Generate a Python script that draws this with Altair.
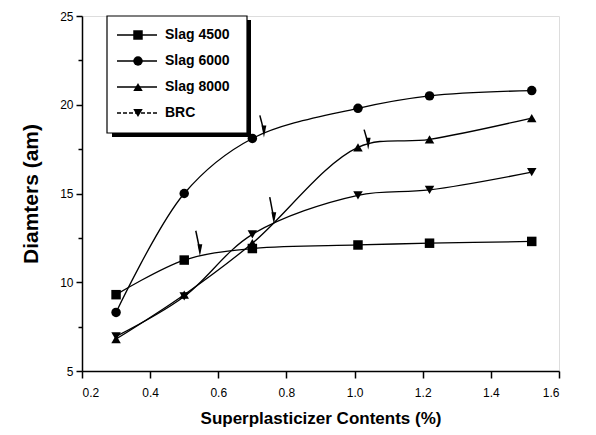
import altair as alt
import pandas as pd

# ---- data ----
x_vals = [0.3, 0.5, 0.7, 1.01, 1.22, 1.52]
series_names = ["Slag 4500", "Slag 6000", "Slag 8000", "BRC"]
slag4500 = [9.3, 11.25, 11.9, 12.1, 12.2, 12.3]
slag6000 = [8.3, 15.0, 18.1, 19.8, 20.5, 20.8]
slag8000 = [6.8, 9.3, 12.2, 17.6, 18.05, 19.25]
brc = [6.95, 9.2, 12.7, 14.9, 15.2, 16.2]
series_shapes = ["square", "circle", "triangle-up", "triangle-down"]

# arrows (x, top value, bottom value)
arrow_x = [0.54, 0.728, 0.757, 1.034]
arrow_top = [12.9, 19.4, 14.8, 18.6]
arrow_bot = [11.8, 18.5, 13.6, 17.8]

x_ticks = [round(0.2 + 0.1 * i, 1) for i in range(15)]
y_ticks = [5 + 2.5 * i for i in range(9)]

rows = []
for name, vals in zip(series_names, [slag4500, slag6000, slag8000, brc]):
    for xv, yv in zip(x_vals, vals):
        rows.append({"series": name, "x": xv, "y": yv})
df = pd.DataFrame(rows)

arrows = pd.DataFrame({
    "x1": [a - 0.006 for a in arrow_x],
    "x2": [a + 0.006 for a in arrow_x],
    "y1": arrow_top,
    "y2": arrow_bot,
})

FONT = "Liberation Sans"

xscale = alt.Scale(domain=[0.2, 1.6], nice=False, zero=False)
yscale = alt.Scale(domain=[5, 25], nice=False, zero=False)

xaxis = alt.Axis(
    values=x_ticks,
    labelExpr="round(datum.value*10) % 2 === 0 ? format(datum.value, '.1f') : ''",
    tickSize={"condition": {"test": "round(datum.value*10) % 2 === 0", "value": 7}, "value": 4},
    grid=False, domainColor="black", domainWidth=1.5, tickColor="black", tickWidth=1.5,
    labelFont=FONT, labelFontSize=12, labelColor="black", labelPadding=9,
    title="Superplasticizer Contents (%)", titleFont=FONT, titleFontSize=17,
    titleFontWeight="bold", titleColor="black", titlePadding=12,
)
yaxis = alt.Axis(
    values=y_ticks,
    labelExpr="datum.value % 5 === 0 ? datum.label : ''",
    tickSize={"condition": {"test": "datum.value % 5 === 0", "value": 6}, "value": 4},
    grid=False, domainColor="black", domainWidth=1.5, tickColor="black", tickWidth=1.5,
    labelFont=FONT, labelFontSize=12, labelColor="black", labelPadding=3,
    title="Diamters (am)", titleFont=FONT, titleFontSize=21,
    titleFontWeight="bold", titleColor="black", titlePadding=18,
)

base = alt.Chart(df)
lines = base.mark_line(interpolate="catmull-rom", color="black", strokeWidth=1.3).encode(
    x=alt.X("x:Q", scale=xscale, axis=xaxis),
    y=alt.Y("y:Q", scale=yscale, axis=yaxis),
    detail="series:N",
)
points = base.mark_point(filled=True, color="black", opacity=1, size=90).encode(
    x="x:Q",
    y="y:Q",
    shape=alt.Shape("series:N", scale=alt.Scale(domain=series_names, range=series_shapes), legend=None),
)

arr_base = alt.Chart(arrows)
arrow_lines = arr_base.mark_rule(color="black", strokeWidth=1.5).encode(
    x="x1:Q", x2="x2:Q", y="y1:Q", y2="y2:Q"
)
arrow_heads = arr_base.mark_point(
    filled=True, color="black", opacity=1, size=144,
    shape="M-0.4,-1L0.4,-1L0,1Z",
).encode(x="x2:Q", y="y2:Q")

# ---- custom legend box (pixel positions relative to the plot area) ----
one = alt.Data(values=[{}])
legend_layers = [
    alt.Chart(one).mark_rect(color="black").encode(
        x=alt.value(30), x2=alt.value(169), y=alt.value(4), y2=alt.value(121)),
    alt.Chart(one).mark_rect(fill="white", stroke="black", strokeWidth=1.2).encode(
        x=alt.value(25), x2=alt.value(165), y=alt.value(0), y2=alt.value(117)),
]
for i, (name, shp) in enumerate(zip(series_names, series_shapes)):
    yy = 19 + 26 * i
    dash = [4, 2] if name == "BRC" else [1, 0]
    legend_layers.append(alt.Chart(one).mark_rule(color="black", strokeWidth=1.3, strokeDash=dash).encode(
        x=alt.value(35), x2=alt.value(75), y=alt.value(yy)))
    legend_layers.append(alt.Chart(one).mark_point(filled=True, color="black", opacity=1, size=90, shape=shp).encode(
        x=alt.value(56), y=alt.value(yy)))
    legend_layers.append(alt.Chart(one).mark_text(
        text=name, font=FONT, fontSize=14, fontWeight="bold", align="left", baseline="middle", color="black"
    ).encode(x=alt.value(83), y=alt.value(yy)))

chart = alt.layer(lines, points, arrow_lines, arrow_heads, *legend_layers).properties(
    width=477, height=355,
    padding={"left": 82, "top": 16, "right": 37, "bottom": 64},
    autosize="none",
).configure_view(stroke=None).configure(background="white")

chart.save("out.html", embed_options={"renderer": "svg", "actions": False})
